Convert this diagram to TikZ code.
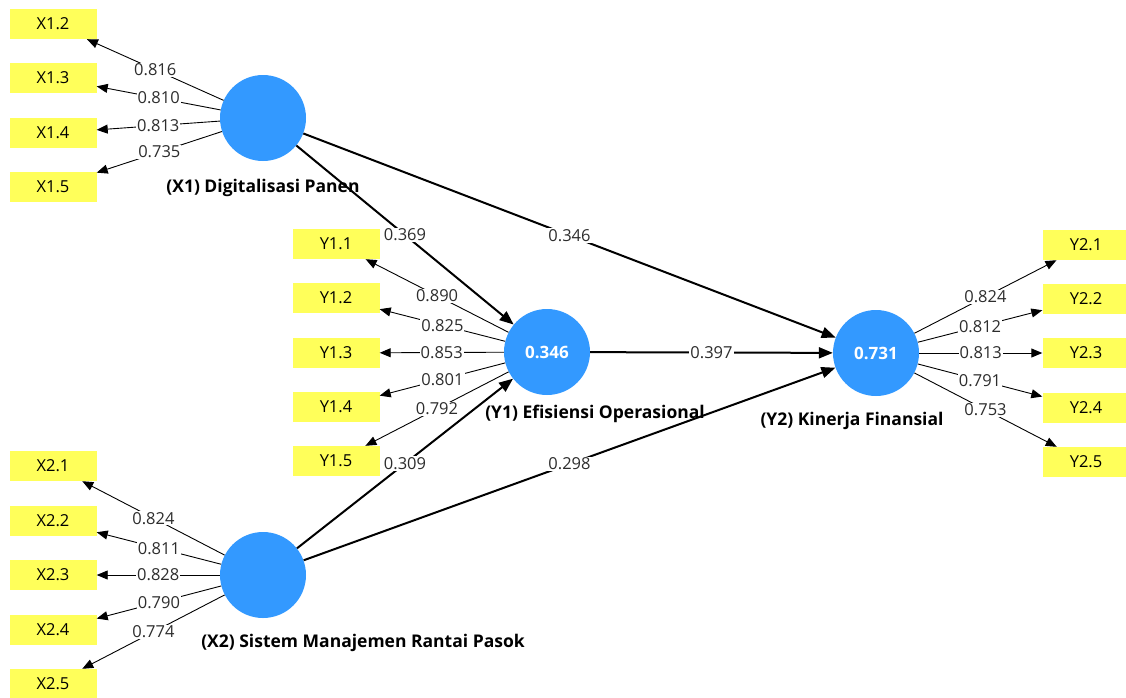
\documentclass[tikz,border=0pt]{standalone}
\usepackage{fontspec}
\setmainfont{Open Sans}
\definecolor{latentblue}{RGB}{51, 153, 255}
\definecolor{itemyellow}{RGB}{255, 255, 90}
\definecolor{coefgray}{RGB}{45, 45, 45}
\usetikzlibrary{arrows.meta}

\begin{document}
\begin{tikzpicture}[x=1pt, y=-1pt,
  latent/.style={circle, fill=latentblue, minimum size=86pt, inner sep=0pt, text=white, font=\fontsize{17}{20}\selectfont\bfseries},
  item/.style={fill=itemyellow, minimum width=87pt, minimum height=30pt, inner sep=0pt, font=\fontsize{16.5}{19}\selectfont},
  latlabel/.style={font=\fontsize{17.5}{20}\selectfont\bfseries},
  loading/.style={line width=0.9pt, -{Triangle[length=11pt, width=9pt]}},
  pathcoef/.style={line width=2pt, -{Triangle[length=14pt, width=11pt]}},
  coef/.style={fill=white, inner sep=1pt, text=coefgray, font=\fontsize{16.5}{19}\selectfont}
]
  \useasboundingbox (0,0) rectangle (1126,697);

  % Latent variables
  \node[latent] (X1) at (263, 118) {};
  \node[latent] (X2) at (263, 575) {};
  \node[latent] (Y1) at (547, 352) {0.346};
  \node[latent] (Y2) at (876, 353) {0.731};

  \node[latlabel] (X1lab) at (263, 188) {(X1) Digitalisasi Panen};
  \node[latlabel] (X2lab) at (363, 643) {(X2) Sistem Manajemen Rantai Pasok};
  \node[latlabel] (Y1lab) at (595, 414) {(Y1) Efisiensi Operasional};
  \node[latlabel] (Y2lab) at (852, 421) {(Y2) Kinerja Finansial};

  % Indicators - X1
  \node[item] (x12) at (53, 24) {X1.2};
  \node[item] (x13) at (53, 78) {X1.3};
  \node[item] (x14) at (53, 133) {X1.4};
  \node[item] (x15) at (53, 187) {X1.5};

  % Indicators - X2
  \node[item] (x21) at (53, 466) {X2.1};
  \node[item] (x22) at (53, 521) {X2.2};
  \node[item] (x23) at (53, 575) {X2.3};
  \node[item] (x24) at (53, 630) {X2.4};
  \node[item] (x25) at (53, 684) {X2.5};

  % Indicators - Y1
  \node[item] (y11) at (336, 244) {Y1.1};
  \node[item] (y12) at (336, 298) {Y1.2};
  \node[item] (y13) at (336, 353) {Y1.3};
  \node[item] (y14) at (336, 407) {Y1.4};
  \node[item] (y15) at (336, 461) {Y1.5};

  % Indicators - Y2
  \node[item] (y21) at (1086, 245) {Y2.1};
  \node[item] (y22) at (1086, 299) {Y2.2};
  \node[item] (y23) at (1086, 353) {Y2.3};
  \node[item] (y24) at (1086, 408) {Y2.4};
  \node[item] (y25) at (1086, 462) {Y2.5};

  % Outer loadings
  \draw[loading] (X1) -- node[coef] {0.816} (x12);
  \draw[loading] (X1) -- node[coef] {0.810} (x13);
  \draw[loading] (X1) -- node[coef] {0.813} (x14);
  \draw[loading] (X1) -- node[coef] {0.735} (x15);

  \draw[loading] (X2) -- node[coef] {0.824} (x21);
  \draw[loading] (X2) -- node[coef] {0.811} (x22);
  \draw[loading] (X2) -- node[coef] {0.828} (x23);
  \draw[loading] (X2) -- node[coef] {0.790} (x24);
  \draw[loading] (X2) -- node[coef] {0.774} (x25);

  \draw[loading] (Y1) -- node[coef] {0.890} (y11);
  \draw[loading] (Y1) -- node[coef] {0.825} (y12);
  \draw[loading] (Y1) -- node[coef] {0.853} (y13);
  \draw[loading] (Y1) -- node[coef] {0.801} (y14);
  \draw[loading] (Y1) -- node[coef] {0.792} (y15);

  \draw[loading] (Y2) -- node[coef] {0.824} (y21);
  \draw[loading] (Y2) -- node[coef] {0.812} (y22);
  \draw[loading] (Y2) -- node[coef] {0.813} (y23);
  \draw[loading] (Y2) -- node[coef] {0.791} (y24);
  \draw[loading] (Y2) -- node[coef] {0.753} (y25);

  % Inner model paths
  \draw[pathcoef] (X1) -- node[coef] {0.369} (Y1);
  \draw[pathcoef] (X1) -- node[coef] {0.346} (Y2);
  \draw[pathcoef] (Y1) -- node[coef] {0.397} (Y2);
  \draw[pathcoef] (X2) -- node[coef] {0.309} (Y1);
  \draw[pathcoef] (X2) -- node[coef] {0.298} (Y2);
\end{tikzpicture}
\end{document}
